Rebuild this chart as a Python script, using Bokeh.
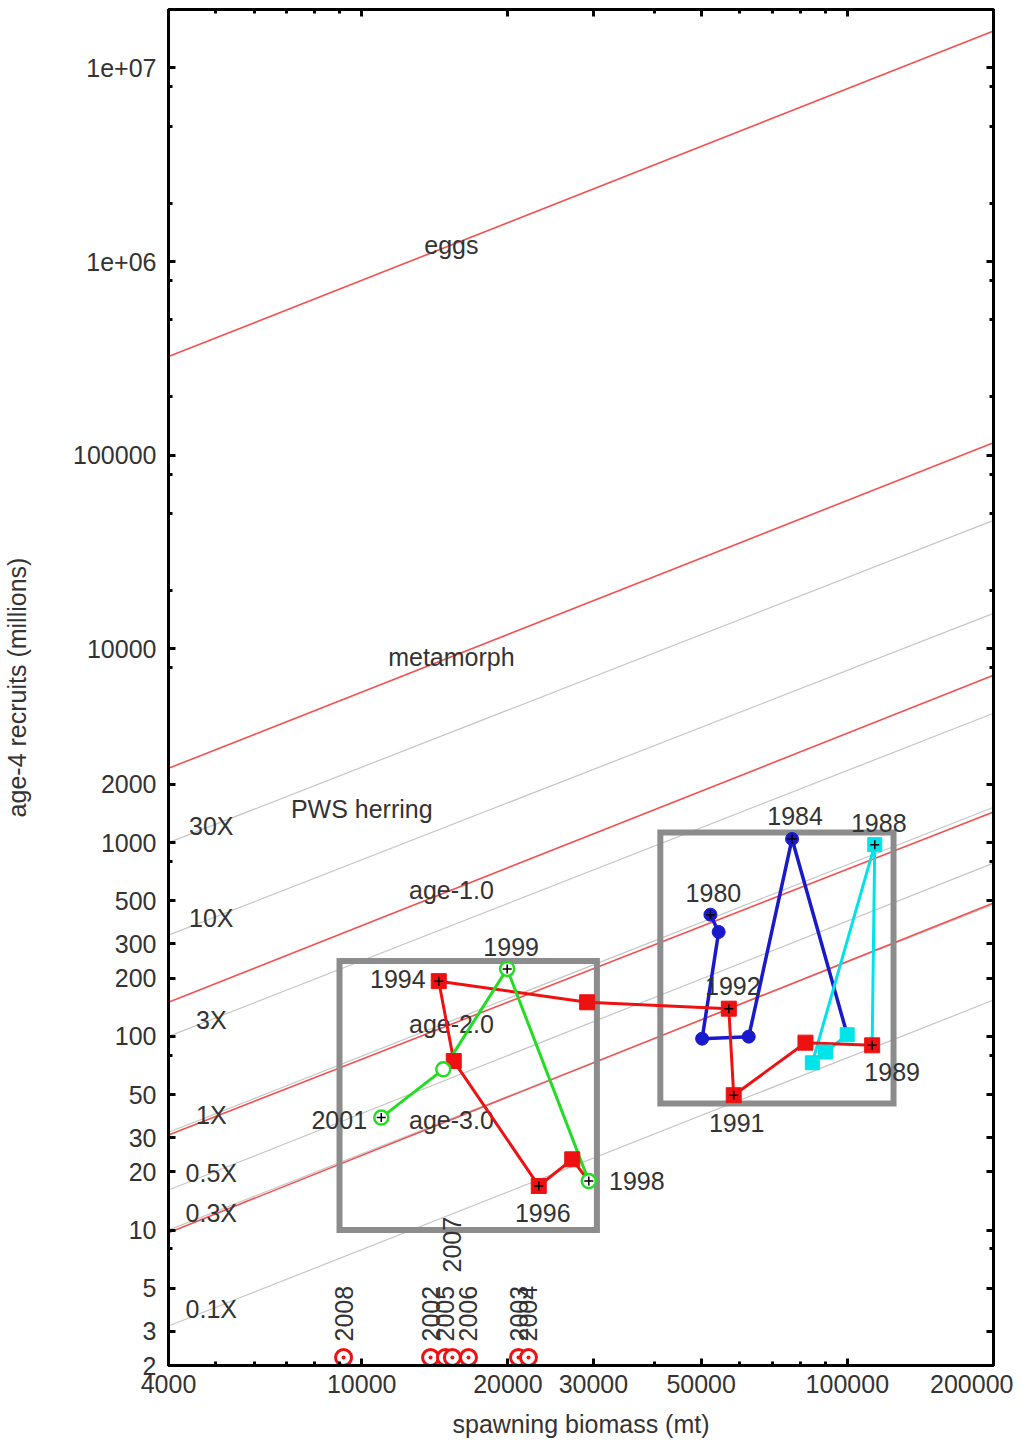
import numpy as np
from bokeh.plotting import figure
from bokeh.models import Range1d, FixedTicker, LogAxis, CustomJSTickFormatter, ColumnDataSource
from bokeh.core.properties import value
from bokeh.embed import file_html
from bokeh.resources import INLINE

# ---------------- data ----------------
years = [1980, 1981, 1982, 1983, 1984, 1985, 1986, 1987, 1988, 1989, 1990,
         1991, 1992, 1993, 1994, 1995, 1996, 1997, 1998, 1999, 2000, 2001]
biomass = [52250, 54330, 50230, 62660, 76950, 99950, 90150, 84700, 113900, 112500, 82000,
           58350, 57010, 29120, 14410, 15470, 23150, 27130, 29350, 19930, 14720, 10970]
recruits = [425, 346, 97.3, 99.7, 1045, 102, 83, 73.1, 977, 89.9, 92.8,
            49.7, 139, 150, 192.8, 74.6, 16.9, 23.2, 17.9, 223, 67.6, 38.1]

# segments (first year, last year) of each coloured track
blue_span = (1980, 1985)
cyan_span = (1985, 1989)
red_span = (1989, 1998)
green_span = (1998, 2001)

labelled_years = [1980, 1984, 1988, 1989, 1991, 1992, 1994, 1996, 1998, 1999, 2001]

# recent years with recruitment below the axis
low_years = [2002, 2003, 2004, 2005, 2006, 2007, 2008]
low_biomass = [13860, 21030, 22050, 14870, 16590, 15370, 9175]
low_recruits = [2.2, 2.2, 2.2, 2.2, 2.2, 2.2, 2.2]

# reference lines: recruits at S=4000 and S=200000
line_ends = [4000, 200000]
stage_names = ["eggs", "metamorph", "age-1.0", "age-2.0", "age-3.0"]
stage_left = [3.23e5, 2420, 150, 31, 9.7]
stage_right = [1.55e7, 1.16e5, 7310, 1438, 488]

repl_names = ["30X", "10X", "3X", "1X", "0.5X", "0.3X", "0.1X"]
repl_left = [1000, 333, 100, 32, 16.1, 10, 3.2]
repl_right = [46100, 15270, 4656, 1524, 784, 480, 154]

# highlight boxes
box_left = [9000, 41200]
box_right = [30500, 124500]
box_bottom = [10, 45]
box_top = [245, 1130]

# axis ticks
x_ticks = [4000, 10000, 20000, 30000, 50000, 100000, 200000]
x_tick_labels = ["4000", "10000", "20000", "30000", "50000", "100000", "200000"]
x_minor = [5000, 6000, 7000, 8000, 9000, 40000, 60000, 70000, 80000, 90000]
y_ticks = [2, 3, 5, 10, 20, 30, 50, 100, 200, 300, 500, 1000, 2000, 10000, 100000, 1000000, 10000000]
y_tick_labels = ["2", "3", "5", "10", "20", "30", "50", "100", "200", "300", "500", "1000", "2000",
                 "10000", "100000", "1e+06", "1e+07"]
y_minor = [8, 80, 800, 8000, 20000, 50000, 80000, 200000, 500000, 800000, 2000000, 5000000, 8000000]

# ---------------- styles ----------------
FONT = "Liberation Sans"
TXT = "#333333"
FS = "25px"
RED_REF = "#f05252"
GRAY_REF = "#c6c6c6"
C_RED = "#ee1111"
C_GREEN = "#22dd22"
C_BLUE = "#1a1acd"
C_CYAN = "#00e3e8"

label_offsets = {1980: (3, -22), 1984: (3, -23), 1988: (4, -22), 1989: (20, 27), 1991: (3, 28),
                 1992: (4, -23), 1994: (-41, -2), 1996: (4, 27), 1998: (48, 0), 1999: (4, -22),
                 2001: (-42, 2)}
low_label_dy = {2007: -85}
stage_label_S = 15300
repl_label_S = 4900
pws_pos = (10000, 1500)

p = figure(width=1013, height=1440, x_axis_type="log", y_axis_type="log",
           x_range=Range1d(4000, 200000), y_range=Range1d(2, 2.0e7),
           output_backend="svg", toolbar_location=None,
           min_border_left=168, min_border_right=20, min_border_top=9, min_border_bottom=75)
p.background_fill_color = "white"
p.border_fill_color = "white"
p.outline_line_color = "black"
p.outline_line_width = 3
p.xgrid.visible = False
p.ygrid.visible = False


def style_axis(ax):
    ax.axis_line_color = "black"
    ax.axis_line_width = 3
    ax.major_tick_line_width = 3
    ax.major_tick_in = 7
    ax.major_tick_out = 0
    ax.minor_tick_line_width = 3
    ax.minor_tick_in = 4
    ax.minor_tick_out = 0
    ax.major_label_text_font = FONT
    ax.major_label_text_font_size = FS
    ax.major_label_text_color = TXT
    ax.axis_label_text_font = FONT
    ax.axis_label_text_font_size = FS
    ax.axis_label_text_font_style = "normal"
    ax.axis_label_text_color = TXT


xa = p.xaxis[0]
style_axis(xa)
xa.ticker = FixedTicker(ticks=x_ticks, minor_ticks=x_minor)
xa.major_label_overrides = {float(t): l for t, l in zip(x_ticks, x_tick_labels)}
xa.axis_label = "spawning biomass (mt)"
xa.major_label_standoff = 9
xa.axis_label_standoff = 14

ya = p.yaxis[0]
style_axis(ya)
ya.ticker = FixedTicker(ticks=y_ticks, minor_ticks=y_minor)
ya.major_label_overrides = {float(t): l for t, l in zip(y_ticks, y_tick_labels)}
ya.axis_label = "age-4 recruits (millions)"
ya.major_label_standoff = 12
ya.axis_label_standoff = 39

blank = CustomJSTickFormatter(code="return '';")
ra = LogAxis(ticker=FixedTicker(ticks=y_ticks, minor_ticks=y_minor), formatter=blank)
style_axis(ra)
ra.major_label_standoff = 0
p.add_layout(ra, "right")
ta = LogAxis(ticker=FixedTicker(ticks=x_ticks, minor_ticks=x_minor), formatter=blank)
style_axis(ta)
ta.major_label_standoff = 0
p.add_layout(ta, "above")

# reference lines
lx0, lx1 = np.log10(line_ends[0]), np.log10(line_ends[1])


def on_line(left, right, s):
    f = (np.log10(s) - lx0) / (lx1 - lx0)
    return 10 ** (np.log10(left) + f * (np.log10(right) - np.log10(left)))


p.multi_line(xs=[line_ends] * len(repl_left), ys=[[a, b] for a, b in zip(repl_left, repl_right)],
             line_color=GRAY_REF, line_width=1.2)
p.multi_line(xs=[line_ends] * len(stage_left), ys=[[a, b] for a, b in zip(stage_left, stage_right)],
             line_color=RED_REF, line_width=1.6)

# boxes
p.quad(left=box_left, right=box_right, bottom=box_bottom, top=box_top,
       fill_color=None, line_color="#8c8c8c", line_width=6, line_join="miter")

# reference-line labels
txt_kw = dict(text_font=value(FONT), text_font_size=value(FS), text_color=TXT,
              text_align="center", text_baseline="middle")
p.text(x=[stage_label_S] * len(stage_names),
       y=[on_line(a, b, stage_label_S) for a, b in zip(stage_left, stage_right)],
       text=stage_names, **txt_kw)
p.text(x=[repl_label_S] * len(repl_names),
       y=[on_line(a, b, repl_label_S) for a, b in zip(repl_left, repl_right)],
       text=repl_names, **txt_kw)
p.text(x=[pws_pos[0]], y=[pws_pos[1]], text=["PWS herring"], **txt_kw)


def span(rng):
    i0 = years.index(rng[0])
    i1 = years.index(rng[1]) + 1
    return biomass[i0:i1], recruits[i0:i1]


for rng, col, w in [(blue_span, C_BLUE, 3.5), (cyan_span, C_CYAN, 3), (red_span, C_RED, 3), (green_span, C_GREEN, 3)]:
    xs, ys = span(rng)
    p.line(xs, ys, line_color=col, line_width=w)

# markers
bx, by = span((1980, 1984))
p.scatter(bx, by, marker="circle", size=13, fill_color=C_BLUE, line_color=C_BLUE)
cx, cy = span((1985, 1988))
p.scatter(cx, cy, marker="square", size=14, fill_color=C_CYAN, line_color=C_CYAN)
rx, ry = span((1989, 1997))
p.scatter(rx, ry, marker="square", size=15, fill_color=C_RED, line_color=C_RED)
gx, gy = span((1998, 2001))
p.scatter(gx, gy, marker="circle", size=14, fill_color="white", line_color=C_GREEN, line_width=2.5)

idx = [years.index(y) for y in labelled_years]
p.scatter([biomass[i] for i in idx], [recruits[i] for i in idx], marker="cross", size=9,
          line_color="black", line_width=1.5)

# year labels
src = ColumnDataSource(dict(
    x=[biomass[i] for i in idx], y=[recruits[i] for i in idx],
    t=[str(y) for y in labelled_years],
    dx=[label_offsets[y][0] for y in labelled_years],
    dy=[label_offsets[y][1] for y in labelled_years]))
p.text(x="x", y="y", text="t", x_offset="dx", y_offset="dy", source=src,
       text_font=value(FONT), text_font_size=value(FS), text_color=TXT,
       text_align="center", text_baseline="middle")

# low-recruitment years
p.scatter(low_biomass, low_recruits, marker="circle_dot", size=16, fill_color="white",
          line_color="#ee1111", line_width=3)
lsrc = ColumnDataSource(dict(x=low_biomass, y=low_recruits, t=[str(y) for y in low_years],
                             dy=[low_label_dy.get(y, -16) for y in low_years]))
p.text(x="x", y="y", text="t", y_offset="dy", source=lsrc, angle=np.pi / 2,
       text_font=value(FONT), text_font_size=value(FS), text_color=TXT,
       text_align="left", text_baseline="middle")

open("out.html", "w").write(file_html(p, INLINE))
